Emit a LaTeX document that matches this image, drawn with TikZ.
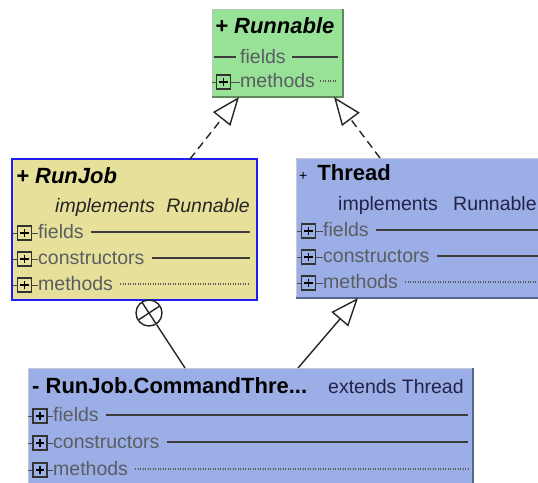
\documentclass[tikz,border=0pt]{standalone}
\usepackage{fontspec}
\setmainfont{Liberation Sans}
\usetikzlibrary{arrows.meta,positioning,calc}
\definecolor{ifcfill}{HTML}{98E298}
\definecolor{ifcshade}{HTML}{5E8A5E}
\definecolor{clsfill}{HTML}{E6E09B}
\definecolor{selline}{HTML}{1E1EF0}
\definecolor{libfill}{HTML}{9BAFE6}
\definecolor{libshade}{HTML}{56648E}
\definecolor{seclabel}{HTML}{5A5D62}
\definecolor{secline}{HTML}{3C3C3C}
\definecolor{kwtext}{HTML}{23234A}

\begin{document}
\begin{tikzpicture}[x=1pt, y=-1pt,
  classbox/.style={anchor=north west, inner sep=0pt, outer sep=0pt},
  ttl/.style={anchor=base west, inner sep=0pt, font=\fontsize{22}{22}\selectfont\bfseries},
  kw/.style={anchor=base west, inner sep=0pt, font=\fontsize{19.5}{19.5}\selectfont, text=kwtext},
  sec/.style={anchor=base west, inner sep=0pt, font=\fontsize{19.5}{19.5}\selectfont, text=seclabel},
  tog/.style={draw=black!80, line width=1.1pt, minimum size=14pt, inner sep=0pt,
    path picture={\draw[black, line width=1.5pt]
      ([xshift=-4.2pt]path picture bounding box.center) -- ([xshift=4.2pt]path picture bounding box.center)
      ([yshift=-4.2pt]path picture bounding box.center) -- ([yshift=4.2pt]path picture bounding box.center);}},
  stub/.style={draw=black!70, line width=0.9pt},
  solidsep/.style={draw=secline, line width=1.4pt},
  dotsep/.style={draw=secline!85, line width=1.1pt, dash pattern=on 1pt off 1.5pt},
  shade/.style={line width=2.2pt},
  realize/.style={draw=black!85, line width=1.4pt, dash pattern=on 8pt off 5pt,
    -{Triangle[open, length=28pt, width=22pt, line width=1.4pt]}},
  extend/.style={draw=black!85, line width=1.4pt,
    -{Triangle[open, length=28pt, width=22pt, line width=1.4pt]}},
  nest/.style={draw=black!85, line width=1.4pt}]
\useasboundingbox (0,0) rectangle (538,482);
\clip (0,0) rectangle (538,482);

% ---------------- interface Runnable
\node[classbox, fill=ifcfill, draw=ifcshade!45, line width=0.6pt,
      minimum width=131pt, minimum height=88pt] (runnable) at (212,9) {};
\draw[ifcshade, shade] (runnable.north east) -- (runnable.south east) -- (runnable.south west);
\node[ttl] (rn-name) at (215,33) {\itshape + Runnable};
\node[sec] (rn-fields) at (240,63) {fields};
\draw[solidsep] (214,57) -- ($(rn-fields.base west)+(-4,-6)$)
                ($(rn-fields.base east)+(6,-6)$) -- (338,57);
\node[tog] (rn-t-methods) at (223.5,82) {};
\node[sec] (rn-methods) at (240,87) {methods};
\draw[stub] (rn-t-methods.west) -- ++(-4,0) (rn-t-methods.east) -- (rn-t-methods.east -| rn-methods.west);
\draw[dotsep] ($(rn-methods.base east)+(5,-6)$) -- (337,81);

% ---------------- class RunJob
\node[classbox, fill=clsfill, draw=selline, line width=2pt,
      minimum width=245pt, minimum height=141pt] (runjob) at (12,159) {};
\node[ttl] (rj-name) at (16,183) {\itshape + RunJob};
\node[kw, text=black!85] (rj-impl) at (55,212) {\itshape implements\hspace{6pt} Runnable};
\foreach \lab/\base/\ls in {fields/238/solidsep, constructors/264/solidsep, methods/290/dotsep} {
  \node[tog] (rj-t-\lab) at (24.5,\base-5) {};
  \node[sec] (rj-l-\lab) at (38,\base) {\lab};
  \draw[stub] (rj-t-\lab.west) -- ++(-4,0) (rj-t-\lab.east) -- (rj-t-\lab.east -| rj-l-\lab.west);
  \draw[\ls] ($(rj-l-\lab.base east)+(7,-6)$) -- (250,\base-6);
}

% ---------------- class Thread
\node[classbox, fill=libfill, draw=libshade!35, line width=0.6pt,
      minimum width=260pt, minimum height=140pt] (thread) at (296,158) {};
\draw[libshade, shade] (thread.south west) -- (thread.south east);
\node[ttl] (th-name) at (299,180) {{\mdseries\fontsize{14}{14}\selectfont +}\hspace{10pt}Thread};
\node[kw] (th-impl) at (338,210) {implements};
\node[kw] (th-runnable) at (453,210) {Runnable};
\foreach \lab/\base/\ls in {fields/236/solidsep, constructors/262/solidsep, methods/288/dotsep} {
  \node[tog] (th-t-\lab) at (308.5,\base-5) {};
  \node[sec] (th-l-\lab) at (323,\base) {\lab};
  \draw[stub] (th-t-\lab.west) -- ++(-4,0) (th-t-\lab.east) -- (th-t-\lab.east -| th-l-\lab.west);
  \draw[\ls] ($(th-l-\lab.base east)+(7,-6)$) -- (545,\base-6);
}

% ---------------- nested class CommandThread
\node[classbox, fill=libfill, draw=libshade!35, line width=0.6pt,
      minimum width=445pt, minimum height=130pt] (cmdthread) at (28,368) {};
\draw[libshade, shade] (cmdthread.north east) -- (cmdthread.south east);
\node[ttl] (ct-name) at (32,393) {- RunJob.CommandThre...};
\node[kw] (ct-ext) at (328,393) {extends Thread};
\foreach \lab/\base/\ls in {fields/421/solidsep, constructors/448/solidsep, methods/475/dotsep} {
  \node[tog] (ct-t-\lab) at (40,\base-5) {};
  \node[sec] (ct-l-\lab) at (53,\base) {\lab};
  \draw[stub] (ct-t-\lab.west) -- ++(-4,0) (ct-t-\lab.east) -- (ct-t-\lab.east -| ct-l-\lab.west);
  \draw[\ls] ($(ct-l-\lab.base east)+(7,-6)$) -- (468,\base-6);
}

% ---------------- relations
\coordinate (rn-in-l) at ($(runnable.south west)+(27,0)$);
\coordinate (rn-in-r) at ($(runnable.south west)+(122,0)$);
\coordinate (rj-out)  at ($(runjob.north west)+(178,0)$);
\coordinate (th-out)  at ($(thread.north west)+(84,0)$);
\coordinate (th-in)   at ($(thread.south west)+(62,0)$);
\coordinate (ct-up)   at ($(cmdthread.north west)+(270,0)$);
\coordinate (ct-own)  at ($(cmdthread.north west)+(157,0)$);
\draw[realize] (rj-out) -- (rn-in-l);
\draw[realize] (th-out) -- (rn-in-r);
\draw[extend] (ct-up) -- (th-in);
\node[circle, draw=black!85, line width=1.4pt, minimum size=26pt, inner sep=0pt] (owner) at (149,313) {};
\draw[nest] (owner) -- (ct-own);
\draw[nest] ($(owner.center)!13pt!(ct-own)$) -- ($(owner.center)!-13pt!(ct-own)$)
            ($(owner.center)!13pt!90:(ct-own)$) -- ($(owner.center)!13pt!-90:(ct-own)$);
\end{tikzpicture}
\end{document}
